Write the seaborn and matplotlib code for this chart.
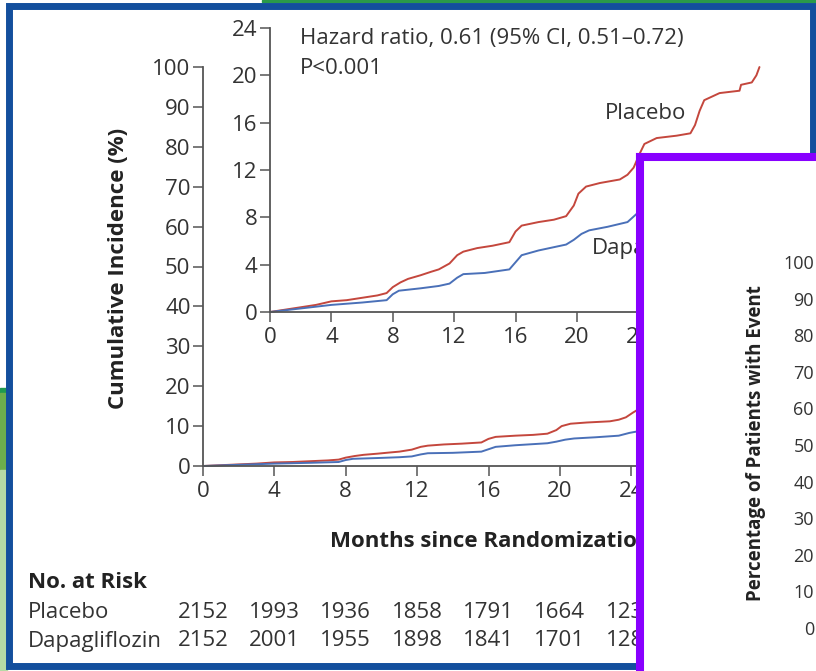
import matplotlib
matplotlib.use("Agg")
import matplotlib.pyplot as plt
import pandas as pd
import seaborn as sns
from matplotlib import transforms
from matplotlib.patches import Rectangle

W, H = 816, 671

# Cumulative incidence (months, %)
placebo_months = [0, 1, 2, 3, 4, 5, 6, 7, 7.6, 8, 8.5, 9, 9.8, 10.5, 11, 11.7,
                  12.2, 12.6, 13.5, 14.5, 15.6, 16.0, 16.4, 17.5, 18.5, 19.3,
                  19.8, 20.1, 20.6, 21.5, 22.8, 23.3, 23.7, 24.1, 24.4, 25.2,
                  26.5, 27.4, 27.7, 28.0, 28.3, 29.3, 30.6, 30.7, 31.4, 31.7, 31.9]
placebo_pct = [0, 0.2, 0.4, 0.6, 0.9, 1.0, 1.2, 1.4, 1.6, 2.1, 2.5, 2.8, 3.1,
               3.4, 3.6, 4.1, 4.8, 5.1, 5.4, 5.6, 5.9, 6.8, 7.3, 7.6, 7.8, 8.1,
               9.0, 10.0, 10.6, 10.9, 11.2, 11.6, 12.2, 13.4, 14.2, 14.7, 14.9,
               15.1, 15.8, 17.0, 17.9, 18.5, 18.7, 19.2, 19.4, 20.0, 20.7]
dapa_months = [0, 2, 4, 6, 7.6, 8.0, 8.4, 9.8, 11, 11.7, 12.2, 12.6, 14, 15.6,
               16.0, 16.4, 17.5, 19.3, 19.8, 20.3, 20.8, 22.0, 23.3, 23.9, 24.5]
dapa_pct = [0, 0.3, 0.6, 0.8, 1.0, 1.5, 1.8, 2.0, 2.2, 2.4, 2.9, 3.2, 3.3, 3.6,
            4.2, 4.8, 5.2, 5.7, 6.1, 6.6, 6.9, 7.2, 7.6, 8.3, 8.8]

risk_months = [0, 4, 8, 12, 16, 20, 24]
risk_placebo = [2152, 1993, 1936, 1858, 1791, 1664, 1232]
risk_dapa = [2152, 2001, 1955, 1898, 1841, 1701, 1288]

month_ticks = [0, 4, 8, 12, 16, 20, 24]
main_yticks = list(range(0, 101, 10))
inset_yticks = [0, 4, 8, 12, 16, 20, 24]
event_yticks = list(range(0, 101, 10))

RED = "#c4473d"
BLUE = "#4a70b8"
TXT = "#333333"
DARK = "#222222"
AX = "#555555"
FS = 16

sns.set_theme(style="ticks")
plt.rcParams["font.family"] = ["Open Sans", "DejaVu Sans"]
plt.rcParams["axes.edgecolor"] = AX
plt.rcParams["xtick.color"] = AX
plt.rcParams["ytick.color"] = AX
plt.rcParams["xtick.labelcolor"] = TXT
plt.rcParams["ytick.labelcolor"] = TXT

df = pd.concat([
    pd.DataFrame({"month": placebo_months, "pct": placebo_pct, "group": "Placebo"}),
    pd.DataFrame({"month": dapa_months, "pct": dapa_pct, "group": "Dapagliflozin"}),
])
palette = {"Placebo": RED, "Dapagliflozin": BLUE}


def px_box(x0, y0, x1, y1):
    return [x0 / W, 1 - y1 / H, (x1 - x0) / W, (y1 - y0) / H]


def style_axes(a):
    a.tick_params(labelsize=FS, length=7, width=1.1)
    a.tick_params(axis="x", pad=4)
    a.tick_params(axis="y", pad=2)
    sns.despine(ax=a)
    for s in a.spines.values():
        s.set_linewidth(1.3)


fig = plt.figure(figsize=(W / 100, H / 100), dpi=100)

# main plot
ax = fig.add_axes(px_box(203, 67, 774, 466))
sns.lineplot(data=df, x="month", y="pct", hue="group", palette=palette,
             estimator=None, lw=1.4, legend=False, ax=ax, clip_on=False)
ax.set_xlim(0, 32)
ax.set_ylim(0, 100)
ax.set_xticks(month_ticks)
ax.set_yticks(main_yticks)
style_axes(ax)
ax.set_ylabel("Cumulative Incidence (%)", fontsize=FS, fontweight="bold", color=DARK)
ax.yaxis.set_label_coords(129 / W, 1 - 268 / H, transform=fig.transFigure)
ax.set_xlabel("Months since Randomization", fontsize=FS, fontweight="bold",
              color=DARK, ha="left")
ax.xaxis.set_label_coords(330 / W, 1 - 531 / H, transform=fig.transFigure)

# inset
axi = fig.add_axes(px_box(270, 28, 761, 312))
axi.patch.set_alpha(0)
sns.lineplot(data=df, x="month", y="pct", hue="group", palette=palette,
             estimator=None, lw=1.4, legend=False, ax=axi, clip_on=False)
axi.set_xlim(0, 32)
axi.set_ylim(0, 24)
axi.set_xticks(month_ticks)
axi.set_yticks(inset_yticks)
style_axes(axi)
axi.set_xlabel("")
axi.set_ylabel("")
axi.text(1.95, 23.1, "Hazard ratio, 0.61 (95% CI, 0.51\u20130.72)", fontsize=FS,
         color=TXT, va="center")
axi.text(1.95, 20.6, "P<0.001", fontsize=FS, color=TXT, va="center")
axi.text(21.8, 16.8, "Placebo", fontsize=FS, color=TXT, va="center")
axi.text(21.0, 5.4, "Dapagliflozin", fontsize=FS, color=TXT, va="center")

# number at risk
tr = transforms.blended_transform_factory(ax.transData, fig.transFigure)
fig.text(28 / W, 1 - 582 / H, "No. at Risk", fontsize=FS, fontweight="bold",
         color=DARK, va="center")
fig.text(28 / W, 1 - 613 / H, "Placebo", fontsize=FS, color=TXT, va="center")
fig.text(28 / W, 1 - 641 / H, "Dapagliflozin", fontsize=FS, color=TXT, va="center")
for m, p, d in zip(risk_months, risk_placebo, risk_dapa):
    fig.text(m, 1 - 613 / H, str(p), transform=tr, fontsize=FS, color=TXT,
             ha="center", va="center")
    fig.text(m, 1 - 641 / H, str(d), transform=tr, fontsize=FS, color=TXT,
             ha="center", va="center")

# screenshot background scraps on the left
for y0, y1, c in [(388, 393, "#1f9a50"), (393, 470, "#6cae4c"), (470, 671, "#b5daa5")]:
    fig.add_artist(Rectangle((0, 1 - y1 / H), 7 / W, (y1 - y0) / H,
                             transform=fig.transFigure, color=c, zorder=1))
fig.add_artist(Rectangle((262 / W, 1 - 2 / H), 1, 2 / H, transform=fig.transFigure,
                         color="#2a9a4a", zorder=1))

# blue frame
fig.add_artist(Rectangle((9 / W, 1 - 666 / H), 804 / W, 660.5 / H,
                         transform=fig.transFigure, fill=False, ec="#134f9d",
                         lw=5, zorder=5))

# overlapping purple panel
axp = fig.add_axes(px_box(640, 157, 900, 760), zorder=10)
axp.set_facecolor("white")
axp.set_xticks([])
axp.set_yticks([])
for s in axp.spines.values():
    s.set_color("#8800ff")
    s.set_linewidth(5.8)

axe = fig.add_axes(px_box(816, 262, 830, 628), zorder=11)
axe.patch.set_alpha(0)
axe.set_ylim(0, 100)
axe.set_yticks(event_yticks)
axe.set_xticks([])
axe.tick_params(axis="y", length=0, pad=1.5, labelsize=13)
for s in axe.spines.values():
    s.set_visible(False)
axe.set_ylabel("Percentage of Patients with Event", fontsize=13.5,
               fontweight="bold", color=DARK)
axe.yaxis.set_label_coords(766 / W, 1 - 443 / H, transform=fig.transFigure)

fig.savefig("out.png", dpi=100)
